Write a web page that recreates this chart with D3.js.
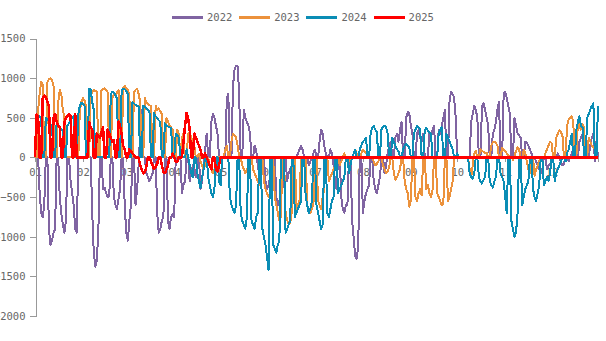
<!DOCTYPE html>
<html><head><meta charset="utf-8">
<script src="https://cdn.jsdelivr.net/npm/d3@7"></script>
<style>body{margin:0;background:#fff}</style></head>
<body><svg id="c" width="606" height="341"></svg>
<script>
const years = ["2022","2023","2024","2025"];
const colors = ["#8064a2","#ec923c","#0a8db5","#ff0000"];
const widths = [2, 2, 2, 2.5];
const monthTicks = [0,31,59,90,120,151,181,212,243,273,304,334];
const monthLabels = ["01","02","03","04","05","06","07","08","09","10","11","12"];
const yTicks = [1500,1000,500,0,-500,-1000,-1500,-2000];

const v2022 = [0,0,
 0,-450,-700,-750,-600,0,0,
 -900,-1100,-1050,-950,-900,0,0,
 -500,-700,-850,-950,-800,0,0,
 -300,-450,-600,-900,-950,0,0,
 0,0,0,0,0,0,0,
 -700,-1200,-1380,-1300,-900,0,0,
 -400,-380,-450,-500,-480,0,0,
 -500,-600,-650,-520,-400,0,0,
 -600,-950,-1050,-800,-600,0,0,
 -600,-400,-100,300,600,0,0,
 -200,-250,-300,-250,-200,0,0,
 -700,-950,-900,-800,-750,0,0,
 -800,-900,-750,-720,-750,0,0,
 0,0,-450,-350,-300,0,0,
 -300,-200,-100,-150,-250,0,0,
 -400,-300,-100,100,300,0,0,
 450,550,500,400,300,0,0,
 0,0,0,750,800,0,0,
 900,1100,1160,1150,800,0,0,
 600,500,450,400,300,0,0,
 150,100,-100,-200,-300,0,0,
 -300,-400,-350,-250,0,0,0,
 -500,-600,-550,-450,-400,0,0,
 -300,-200,-150,-100,-50,0,0,
 50,100,150,100,0,0,0,
 -100,-50,0,50,100,0,0,
 200,350,300,150,50,0,0,
 100,50,-100,-300,-400,0,0,
 -500,-650,-700,-600,-600,0,0,
 -800,-1000,-1250,-1280,-1100,0,0,
 -700,-550,-450,-400,-350,0,0,
 -300,-400,-450,-350,-250,0,0,
 -200,-100,50,150,200,0,0,
 250,300,200,350,450,0,0,
 500,575,550,400,300,0,0,
 300,350,250,200,300,0,0,
 0,300,250,350,400,0,0,
 350,300,400,500,600,0,0,
 700,830,800,750,500,0,0,
 0,0,0,0,0,0,0,
 450,550,650,600,500,0,0,
 650,680,600,500,400,0,0,
 300,350,450,600,700,0,0,
 800,830,750,650,550,0,0,
 500,400,300,280,250,0,0,
 200,180,150,100,50,0,0,
 -50,-100,-150,-200,-150,0,0,
 -150,-100,-80,-50,0,0,0,
 50,0,-50,-100,-80,0,0,
 -50,0,50,100,150,0,0,
 200,250,300,200,150,0,0,
 150,250,300,-50,200,0];

const v2023 = [0,
 0,600,800,950,920,0,0,
 950,990,1000,980,900,0,0,
 700,850,800,600,500,0,0,
 0,0,0,0,0,0,0,
 600,700,750,720,650,0,0,
 800,820,850,840,830,0,0,
 850,860,870,850,820,0,0,
 750,800,780,820,850,0,0,
 880,900,870,850,800,0,0,
 820,850,870,800,700,0,0,
 750,700,680,660,650,0,0,
 650,600,620,580,550,0,0,
 500,450,400,380,350,0,0,
 350,300,0,250,300,0,0,
 300,320,250,200,150,0,0,
 50,-50,-100,-150,-100,0,0,
 -100,-150,-200,-150,-100,0,0,
 0,0,0,100,150,0,0,
 200,300,280,250,150,0,0,
 -100,-150,-200,-150,-100,0,0,
 -150,-200,-250,-300,-350,0,0,
 -300,-400,-450,-500,-450,0,0,
 -500,-600,-700,-800,-750,0,0,
 -700,-780,-850,-820,-700,0,0,
 -650,-600,-550,0,0,0,0,
 -600,-650,-700,-650,-600,0,0,
 -550,-600,-650,-500,-400,0,0,
 -300,-250,-200,-150,-100,0,0,
 -100,-50,0,50,0,0,0,
 -50,0,50,100,50,0,0,
 50,100,80,60,40,0,0,
 0,-50,-100,-80,-50,0,0,
 -100,-150,-200,-180,-120,0,0,
 -200,-280,-250,-200,-150,0,0,
 -300,-400,-450,-620,-550,0,0,
 -500,-550,-450,-400,-480,0,0,
 -400,-350,-450,-500,-420,0,0,
 -450,-500,-550,-600,-580,0,0,
 -550,-500,-400,-300,0,0,0,
 0,0,0,0,0,0,0,
 -150,-250,-100,50,80,0,0,
 100,80,70,50,60,0,0,
 150,190,200,180,150,0,0,
 120,100,80,50,30,0,0,
 -30,20,80,130,100,0,0,
 100,50,-50,-150,-200,0,0,
 -230,-150,-100,-50,0,0,0,
 50,100,150,200,180,0,0,
 250,300,340,320,280,0,0,
 400,480,500,520,450,0,0,
 450,400,350,420,380,0,0,
 250,200,150,120,100,0,0];

const v2024 = [
 0,450,500,520,480,0,0,
 500,480,450,420,400,0,0,
 450,420,380,350,330,0,0,
 400,430,480,500,520,0,0,
 550,650,690,680,650,0,0,
 870,850,700,600,0,0,0,
 0,0,0,0,0,0,0,
 800,830,820,780,750,0,0,
 850,870,860,840,800,0,0,
 700,680,660,650,640,0,0,
 650,640,620,600,580,0,0,
 560,520,500,470,450,0,0,
 430,400,390,380,370,0,0,
 300,280,250,0,0,0,0,
 100,0,-100,-200,-250,0,0,
 -200,-300,-380,-250,-150,0,0,
 -250,-350,-450,-500,-400,0,0,
 -300,-350,0,0,0,0,0,
 -500,-600,-650,-700,-600,0,0,
 -700,-800,-850,-900,-750,0,0,
 -800,-850,-900,-750,-700,0,0,
 -900,-1000,-1100,-1250,-1420,0,0,
 -1100,-1150,-1200,-1100,-1050,0,0,
 0,-950,-900,-850,-800,0,0,
 -750,-700,-650,-600,-550,0,0,
 -500,-600,-700,-650,-550,0,0,
 -600,-700,-800,-900,-850,0,0,
 -700,-750,-650,-550,-500,0,0,
 -450,-400,-350,-300,-250,0,0,
 -200,-100,0,50,100,0,0,
 100,150,200,220,250,0,0,
 300,380,400,350,320,0,0,
 350,390,400,380,300,0,0,
 250,200,150,100,80,0,0,
 100,150,170,150,120,0,0,
 300,350,400,380,350,0,0,
 350,370,340,320,300,0,0,
 0,0,300,350,380,0,0,
 300,250,200,150,100,0,0,
 50,0,0,0,0,0,0,
 0,-200,-250,-270,-200,0,0,
 -250,-300,-330,-280,-250,0,0,
 -300,-350,-380,-300,-250,0,0,
 -200,-250,-300,-500,-700,0,0,
 -800,-900,-1000,-950,-700,0,0,
 -600,-500,-400,-350,-300,0,0,
 -400,-500,-550,-450,-350,0,0,
 -350,-300,-250,-300,-200,0,0,
 -300,-200,-150,-100,-50,0,0,
 -50,50,100,200,300,0,0,
 350,450,520,400,380,0,0,
 500,550,600,650,680,0,0,
 650];

const v2025 = [0,540,520,0,0,
 750,780,760,700,650,0,0,
 500,550,450,400,380,0,0,
 450,500,520,540,530,0,0,
 550,0,0,0,0,0,0,
 0,0,450,380,350,0,0,
 300,280,250,320,380,0,0,
 350,300,250,200,220,0,0,
 450,400,300,150,100,0,0,
 100,80,50,30,0,0,0,
 -100,-150,-200,-180,-120,0,0,
 -50,-100,-150,-120,-80,0,0,
 -100,-180,-200,-150,-100,0,0,
 50,0,-50,-60,0,0,0,
 200,400,560,500,350,0,0,
 300,250,200,150,100,0,0,
 50,0,-50,-100,-150,0,0,
 -150,-180,-100,0,0,0,0,
 0,0,0,0,0,0,0,0,0,0, 0,0,0,0,0,0,0,0,0,0, 0,0,0,0,0,0,0,0,0,0, 0,0,0,0,0,0,0,0,0,0,
 0,0,0,0,0,0,0,0,0,0, 0,0,0,0,0,0,0,0,0,0, 0,0,0,0,0,0,0,0,0,0, 0,0,0,0,0,0,0,0,0,0,
 0,0,0,0,0,0,0,0,0,0, 0,0,0,0,0,0,0,0,0,0, 0,0,0,0,0,0,0,0,0,0, 0,0,0,0,0,0,0,0,0,0,
 0,0,0,0,0,0,0,0,0,0, 0,0,0,0,0,0,0,0,0,0, 0,0,0,0,0,0,0,0,0,0, 0,0,0,0,0,0,0,0,0,0,
 0,0,0,0,0,0,0,0,0,0, 0,0,0,0,0,0,0,0,0,0, 0,0,0,0,0,0,0,0,0,0, 0,0,0,0,0,0,0,0,0,0,
 0,0,0,0,0,0,0,0,0,0, 0,0,0,0,0,0,0,0,0,0, 0,0,0,0,0,0,0,0,0,0, 0,0,0,0,0,0,0,0,0,0,
 0];

const series = [v2022, v2023, v2024, v2025];

const svg = d3.select("#c");
const font = "'DejaVu Sans Mono', monospace";
const x = d3.scaleLinear().domain([0, 364]).range([35, 598]);
const y = d3.scaleLinear().domain([-2000, 1500]).range([316, 38.5]);

// y axis
const ya = svg.append("g").attr("transform", "translate(35.5,0)")
  .call(d3.axisLeft(y).tickValues(yTicks).tickFormat(d3.format("d"))
    .tickSize(6).tickSizeOuter(0).tickPadding(4));
ya.selectAll("path,line").attr("stroke", "#999").attr("shape-rendering", "crispEdges");
ya.selectAll("text").attr("fill", "#666").style("font-family", font).style("font-size", "10.5px");

// x axis at zero
const xa = svg.append("g").attr("transform", `translate(0,${y(0)})`)
  .call(d3.axisBottom(x).tickValues(monthTicks).tickFormat((d, i) => monthLabels[i])
    .tickSize(5).tickSizeOuter(5).tickPadding(6));
xa.selectAll("path,line").attr("stroke", "#999").attr("shape-rendering", "crispEdges");
xa.selectAll("text").attr("fill", "#666").style("font-family", font).style("font-size", "10.5px");

// lines
const line = d3.line().x((d, i) => x(i)).y(d => y(d));
series.forEach((s, k) => {
  svg.append("path").datum(s)
    .attr("d", line)
    .attr("fill", "none")
    .attr("stroke", colors[k])
    .attr("stroke-width", widths[k])
    .attr("stroke-linejoin", "round")
    .attr("shape-rendering", "crispEdges");
});

// legend
const lg = svg.append("g");
years.forEach((yr, k) => {
  const x0 = 172 + k * 67.2;
  lg.append("line").attr("x1", x0).attr("x2", x0 + 31).attr("y1", 17).attr("y2", 17)
    .attr("stroke", colors[k]).attr("stroke-width", 3).attr("shape-rendering", "crispEdges");
  lg.append("text").attr("x", x0 + 35).attr("y", 17).attr("dy", "0.35em")
    .attr("fill", "#666").style("font-family", font).style("font-size", "10.5px").text(yr);
});
</script>
</body></html>
